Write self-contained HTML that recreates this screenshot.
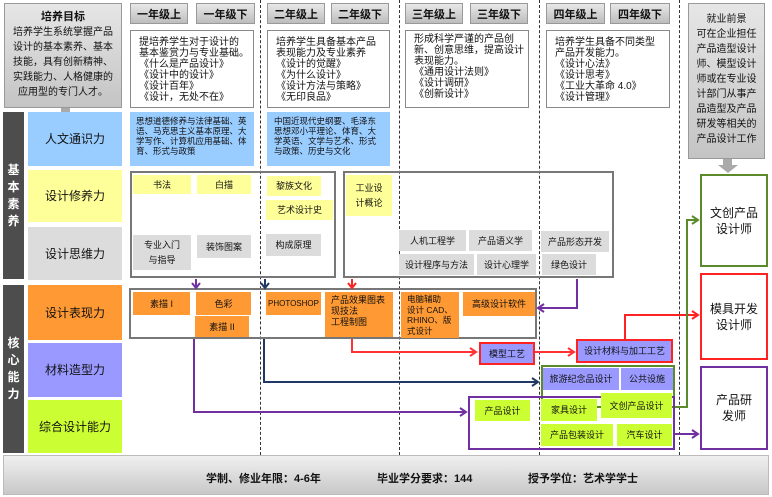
<!DOCTYPE html>
<html><head><meta charset="utf-8"><style>
body{margin:0;width:772px;height:497px;background:#fff;position:relative;overflow:hidden;font-family:"Liberation Sans","Noto Sans CJK SC",sans-serif;color:#111}
div{position:absolute;box-sizing:border-box}
.c{display:flex;align-items:center;justify-content:center;text-align:center;font-size:9px;line-height:12px}
.hd{background:linear-gradient(#e8e8e8,#bdbdbd);border:1px solid #999;font-weight:bold;font-size:11px;display:flex;align-items:center;justify-content:center}
.desc{border:1px solid #888;background:#fff;font-size:10px;line-height:11px;padding:6px 4px 0 8px;white-space:pre}
.y{background:#ffff99}.g{background:#dcdcdc}.o{background:#ff9933}.p{background:#9999ff}.l{background:#ccff33}.b{background:#99ccff}
.row{font-size:12px}
.box{border:2px solid #777}
.dash{border-left:1px dashed #333;width:0}
</style></head><body>
<div class="dash" style="left:260px;top:0;height:455px"></div>
<div class="dash" style="left:399px;top:0;height:455px"></div>
<div class="dash" style="left:539px;top:0;height:455px"></div>
<div class="dash" style="left:679px;top:0;height:455px"></div>

<div style="left:4px;top:3px;width:118px;height:105px;background:linear-gradient(#e6e6e6,#c4c4c4);border:1px solid #999;text-align:center;font-size:10px;line-height:15px;padding-top:6px"><b style="font-size:11px">培养目标</b><br>培养学生系统掌握产品<br>设计的基本素养、基本<br>技能，具有创新精神、<br>实践能力、人格健康的<br>应用型的专门人才。</div>
<div style="left:61px;top:108px;width:9px;height:8px;background:#aaa"></div>
<div style="left:56px;top:116px;width:0;height:0;border-left:10px solid transparent;border-right:10px solid transparent;border-top:9px solid #aaa"></div>

<div class="c" style="left:3px;top:112px;width:21px;height:167px;background:#4d4d4d;color:#fff;font-weight:bold;font-size:12px;line-height:17px">基<br>本<br>素<br>养</div>
<div class="c" style="left:3px;top:285px;width:21px;height:168px;background:#4d4d4d;color:#fff;font-weight:bold;font-size:12px;line-height:17px">核<br>心<br>能<br>力</div>
<div class="c row b" style="left:28px;top:112px;width:94px;height:54px">人文通识力</div>
<div class="c row y" style="left:28px;top:170px;width:94px;height:52px">设计修养力</div>
<div class="c row g" style="left:28px;top:227px;width:94px;height:53px">设计思维力</div>
<div class="c row o" style="left:28px;top:285px;width:94px;height:55px">设计表现力</div>
<div class="c row p" style="left:28px;top:343px;width:94px;height:54px">材料造型力</div>
<div class="c row l" style="left:28px;top:400px;width:94px;height:53px">综合设计能力</div>

<div class="hd" style="left:130px;top:3px;width:58px;height:21px">一年级上</div>
<div class="hd" style="left:196px;top:3px;width:59px;height:21px">一年级下</div>
<div class="hd" style="left:267px;top:3px;width:58px;height:21px">二年级上</div>
<div class="hd" style="left:331px;top:3px;width:58px;height:21px">二年级下</div>
<div class="hd" style="left:405px;top:3px;width:58px;height:21px">三年级上</div>
<div class="hd" style="left:470px;top:3px;width:58px;height:21px">三年级下</div>
<div class="hd" style="left:546px;top:3px;width:59px;height:21px">四年级上</div>
<div class="hd" style="left:610px;top:3px;width:60px;height:21px">四年级下</div>

<div class="desc" style="left:130px;top:30px;width:124px;height:78px">提培养学生对于设计的
基本鉴赏力与专业基础。
《什么是产品设计》
《设计中的设计》
《设计百年》
《设计，无处不在》</div>
<div class="desc" style="left:267px;top:30px;width:123px;height:78px">培养学生具备基本产品
表现能力及专业素养
《设计的觉醒》
《为什么设计》
《设计方法与策略》
《无印良品》</div>
<div class="desc" style="left:405px;top:30px;width:124px;height:78px;padding-top:3px">形成科学严谨的产品创
新、创意思维，提高设计
表现能力。
《通用设计法则》
《设计调研》
《创新设计》</div>
<div class="desc" style="left:546px;top:30px;width:124px;height:78px">培养学生具备不同类型
产品开发能力。
《设计心法》
《设计思考》
《工业大革命 4.0》
《设计管理》</div>

<div class="b" style="left:130px;top:112px;width:124px;height:54px;font-size:8.5px;line-height:10px;padding:4px 6px">思想道德修养与法律基础、英语、马克思主义基本原理、大学写作、计算机应用基础、体育、形式与政策</div>
<div class="b" style="left:267px;top:112px;width:123px;height:54px;font-size:8.5px;line-height:10px;padding:4px 7px">中国近现代史纲要、毛泽东思想邓小平理论、体育、大学英语、文学与艺术、形式与政策、历史与文化</div>

<div style="left:688px;top:3px;width:77px;height:156px;background:linear-gradient(#e6e6e6,#c4c4c4);border:1px solid #999;text-align:center;font-size:10px;line-height:15px;padding-top:8px">就业前景<br>可在企业担任<br>产品造型设计<br>师、模型设计<br>师或在专业设<br>计部门从事产<br>品造型及产品<br>研发等相关的<br>产品设计工作</div>
<div style="left:723px;top:159px;width:9px;height:6px;background:#aaa"></div>
<div style="left:718px;top:165px;width:0;height:0;border-left:10px solid transparent;border-right:10px solid transparent;border-top:8px solid #aaa"></div>

<div class="box" style="left:130px;top:171px;width:206px;height:107px"></div>
<div class="box" style="left:343px;top:171px;width:271px;height:107px"></div>
<div class="c y" style="left:133px;top:175px;width:58px;height:19px">书法</div>
<div class="c y" style="left:197px;top:175px;width:54px;height:19px">白描</div>
<div class="c y" style="left:267px;top:176px;width:54px;height:20px">黎族文化</div>
<div class="c y" style="left:266px;top:200px;width:67px;height:20px">艺术设计史</div>
<div class="c y" style="left:346px;top:175px;width:46px;height:41px;line-height:15px">工业设<br>计概论</div>
<div class="c g" style="left:133px;top:235px;width:58px;height:35px;line-height:15px">专业入门<br>与指导</div>
<div class="c g" style="left:197px;top:235px;width:54px;height:23px">装饰图案</div>
<div class="c g" style="left:266px;top:234px;width:55px;height:22px">构成原理</div>
<div class="c g" style="left:399px;top:230px;width:67px;height:21px">人机工程学</div>
<div class="c g" style="left:469px;top:230px;width:63px;height:21px">产品语义学</div>
<div class="c g" style="left:541px;top:231px;width:68px;height:21px">产品形态开发</div>
<div class="c g" style="left:399px;top:254px;width:75px;height:21px">设计程序与方法</div>
<div class="c g" style="left:477px;top:254px;width:59px;height:21px">设计心理学</div>
<div class="c g" style="left:542px;top:254px;width:54px;height:21px">绿色设计</div>

<div class="box" style="left:129px;top:288px;width:408px;height:51px"></div>
<div class="c o" style="left:133px;top:292px;width:57px;height:23px">素描 I</div>
<div class="c o" style="left:196px;top:292px;width:55px;height:23px">色彩</div>
<div class="c o" style="left:195px;top:316px;width:54px;height:21px">素描 II</div>
<div class="c o" style="left:266px;top:292px;width:55px;height:23px;font-size:8px">PHOTOSHOP</div>
<div class="o" style="left:325px;top:292px;width:68px;height:45px;font-size:9px;line-height:11px;padding:3px 6px">产品效果图表<br>现技法<br>工程制图</div>
<div class="o" style="left:401px;top:292px;width:58px;height:46px;font-size:8.5px;line-height:10.5px;padding:2px 6px;white-space:nowrap">电脑辅助<br>设计 CAD、<br>RHINO、版<br>式设计</div>
<div class="c o" style="left:463px;top:292px;width:72px;height:24px">高级设计软件</div>

<div class="c p" style="left:479px;top:342px;width:56px;height:23px;border:2px solid #f22">模型工艺</div>
<div class="c p" style="left:576px;top:339px;width:97px;height:24px;border:2px solid #f22">设计材料与加工工艺</div>
<div style="left:541px;top:365px;width:134px;height:43px;border:2px solid #5a8a2a"></div>
<div class="c p" style="left:543px;top:368px;width:76px;height:22px">旅游纪念品设计</div>
<div class="c p" style="left:621px;top:368px;width:52px;height:22px">公共设施</div>
<div style="left:468px;top:396px;width:207px;height:54px;border:2px solid #7030a0"></div>
<div class="c l" style="left:601px;top:393px;width:71px;height:25px">文创产品设计</div>
<div class="c l" style="left:475px;top:400px;width:55px;height:21px">产品设计</div>
<div class="c l" style="left:541px;top:399px;width:56px;height:22px">家具设计</div>
<div class="c l" style="left:541px;top:424px;width:72px;height:22px">产品包装设计</div>
<div class="c l" style="left:617px;top:424px;width:55px;height:22px">汽车设计</div>

<div class="c" style="left:700px;top:174px;width:68px;height:93px;border:2px solid #5a8a2a;font-size:12px;line-height:16px">文创产品<br>设计师</div>
<div class="c" style="left:700px;top:273px;width:68px;height:87px;border:2px solid #f22;font-size:12px;line-height:16px">模具开发<br>设计师</div>
<div class="c" style="left:700px;top:366px;width:68px;height:84px;border:2px solid #7030a0;font-size:12px;line-height:16px">产品研<br>发师</div>

<svg style="position:absolute;left:0;top:0" width="772" height="497">
<g fill="none" stroke-width="2">
<path d="M196 279V287M192 283L196 288L200 283" stroke="#7030a0"/>
<path d="M265 279V287M261 283L265 288L269 283" stroke="#1f3864"/>
<path d="M352 279V287M348 283L352 288L356 283" stroke="#f22"/>
<path d="M577 279V308H538M544 304L538 308L544 312" stroke="#7030a0"/>
<path d="M352 339V352H476M470 348L476 352L470 356" stroke="#f33"/>
<path d="M535 352H574M568 348L574 352L568 356" stroke="#f33"/>
<path d="M625 339V315H698M692 311L698 315L692 319" stroke="#f22"/>
<path d="M264 339V382H538M532 378L538 382L532 386" stroke="#1f3864"/>
<path d="M194 339V412H466M460 408L466 412L460 416" stroke="#7030a0"/>
<path d="M675 407H687V220H698M692 216L698 220L692 224" stroke="#5a8a2a"/>
<path d="M675 434H698M692 430L698 434L692 438" stroke="#7030a0"/>
</g></svg>

<div style="left:3px;top:455px;width:766px;height:40px;background:linear-gradient(#f0f0f0,#c8c8c8);border:1px solid #bbb;font-weight:bold;font-size:11px">
<span style="position:absolute;left:202px;top:14px">学制、修业年限：4-6年</span>
<span style="position:absolute;left:373px;top:14px">毕业学分要求：144</span>
<span style="position:absolute;left:524px;top:14px">授予学位：艺术学学士</span>
</div>
</body></html>
